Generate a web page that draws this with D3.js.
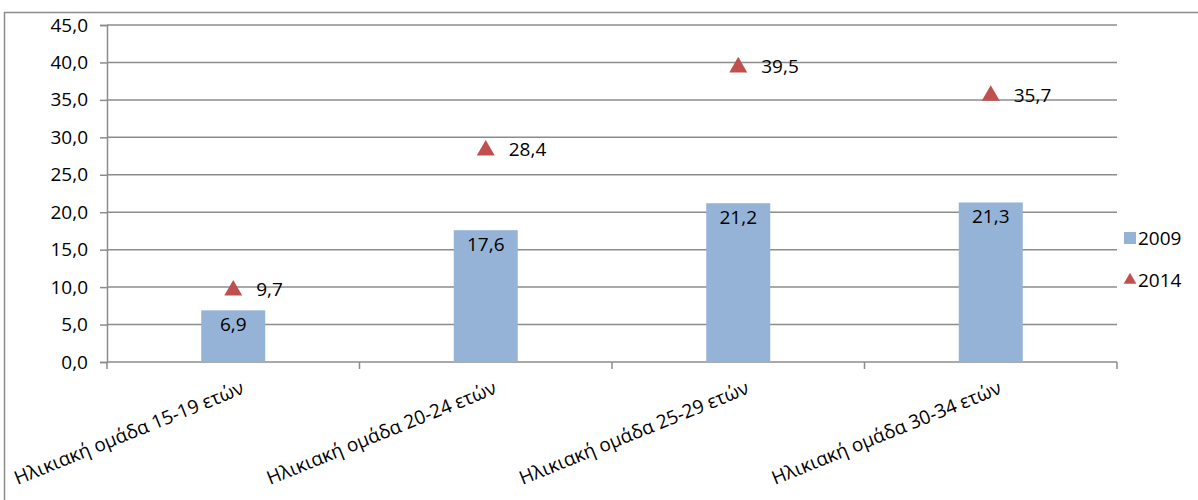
<!doctype html>
<html>
<head>
  <meta charset="utf-8">
  <script src="https://d3js.org/d3.v7.min.js"></script>
  <style>
    body { margin: 0; background: #fff; }
    text { font-family: "Open Sans", sans-serif; fill: #000; }
  </style>
</head>
<body>
  <div id="viz"></div>
  <script>
    // chart data
    var categories = ["Ηλικιακή ομάδα 15-19 ετών", "Ηλικιακή ομάδα 20-24 ετών",
                      "Ηλικιακή ομάδα 25-29 ετών", "Ηλικιακή ομάδα 30-34 ετών"];
    var values2009 = [6.9, 17.6, 21.2, 21.3];
    var values2014 = [9.7, 28.4, 39.5, 35.7];
    var seriesNames = ["2009", "2014"];
    var yTicks = [0, 5, 10, 15, 20, 25, 30, 35, 40, 45];

    var width = 1198, height = 500;
    var plot = {left: 107, right: 1117, top: 25, bottom: 362};
    var fs = "19px";
    var fmt = function(v) { return d3.format(".1f")(v).replace(".", ","); };

    var svg = d3.select("#viz").append("svg")
        .attr("width", width).attr("height", height);

    // outer chart border
    svg.append("rect")
       .attr("x", 4.5).attr("y", 12.5)
       .attr("width", 1210).attr("height", 520)
       .style("fill", "none").style("stroke", "#8c8c8c").style("stroke-width", 1.5);

    var x = d3.scaleBand().domain(categories).range([plot.left, plot.right]);
    var y = d3.scaleLinear().domain([0, 45]).range([plot.bottom, plot.top]);

    // gridlines
    svg.selectAll(".grid").data(yTicks.slice(1)).enter().append("line")
       .attr("x1", plot.left).attr("x2", plot.right)
       .attr("y1", function(d) { return y(d); }).attr("y2", function(d) { return y(d); })
       .style("stroke", "#8c8c8c").style("stroke-width", 1.5);

    // y axis
    var yAxis = svg.append("g")
       .attr("transform", "translate(" + plot.left + ",0)")
       .call(d3.axisLeft(y).tickValues(yTicks).tickFormat(fmt).tickSize(7).tickPadding(12));
    yAxis.select(".domain").style("stroke", "#8c8c8c").style("stroke-width", 1.5);
    yAxis.selectAll(".tick line").style("stroke", "#8c8c8c").style("stroke-width", 1.5);
    yAxis.selectAll("text").style("font-size", fs).style("font-family", "'Open Sans', sans-serif").attr("fill", "#000");

    // x axis line and boundary ticks
    svg.append("line")
       .attr("x1", plot.left).attr("x2", plot.right)
       .attr("y1", plot.bottom).attr("y2", plot.bottom)
       .style("stroke", "#8c8c8c").style("stroke-width", 1.5);
    var bounds = categories.map(function(c) { return x(c); }).concat([plot.right]);
    svg.selectAll(".xtick").data(bounds).enter().append("line")
       .attr("x1", function(d) { return d; }).attr("x2", function(d) { return d; })
       .attr("y1", plot.bottom).attr("y2", plot.bottom + 7)
       .style("stroke", "#8c8c8c").style("stroke-width", 1.5);

    // x labels, rotated
    svg.selectAll(".xlabel").data(categories).enter().append("text")
       .attr("text-anchor", "end")
       .attr("transform", function(d) {
         return "translate(" + (x(d) + x.bandwidth() / 2 + 12) + "," + (plot.bottom + 31) + ") rotate(-22)";
       })
       .style("font-size", fs)
       .text(function(d) { return d; });

    // bars (2009)
    var barW = 64;
    svg.selectAll(".bar").data(values2009).enter().append("rect")
       .attr("x", function(d, i) { return x(categories[i]) + x.bandwidth() / 2 - barW / 2; })
       .attr("y", function(d) { return y(d); })
       .attr("width", barW)
       .attr("height", function(d) { return y(0) - y(d); })
       .style("fill", "#95b3d7");
    svg.selectAll(".barlabel").data(values2009).enter().append("text")
       .attr("text-anchor", "middle")
       .attr("x", function(d, i) { return x(categories[i]) + x.bandwidth() / 2; })
       .attr("y", function(d) { return y(d) + 21; })
       .style("font-size", fs)
       .text(fmt);

    // triangles (2014)
    var tri = d3.symbol().type(d3.symbolTriangle).size(140);
    svg.selectAll(".tri").data(values2014).enter().append("path")
       .attr("d", tri)
       .attr("transform", function(d, i) {
         return "translate(" + (x(categories[i]) + x.bandwidth() / 2) + "," + (y(d) + 1) + ")";
       })
       .style("fill", "#c0504d");
    svg.selectAll(".trilabel").data(values2014).enter().append("text")
       .attr("x", function(d, i) { return x(categories[i]) + x.bandwidth() / 2 + 23; })
       .attr("y", function(d) { return y(d) + 7; })
       .style("font-size", fs)
       .text(fmt);

    // legend
    var leg = svg.append("g").attr("transform", "translate(1124,238)");
    leg.append("rect").attr("x", 0).attr("y", -6).attr("width", 12).attr("height", 12).style("fill", "#95b3d7");
    leg.append("text").attr("x", 14).attr("y", 7).style("font-size", fs).text(seriesNames[0]);
    leg.append("path").attr("d", d3.symbol().type(d3.symbolTriangle).size(70))
       .attr("transform", "translate(6,42)").style("fill", "#c0504d");
    leg.append("text").attr("x", 14).attr("y", 49).style("font-size", fs).text(seriesNames[1]);
  </script>
</body>
</html>
